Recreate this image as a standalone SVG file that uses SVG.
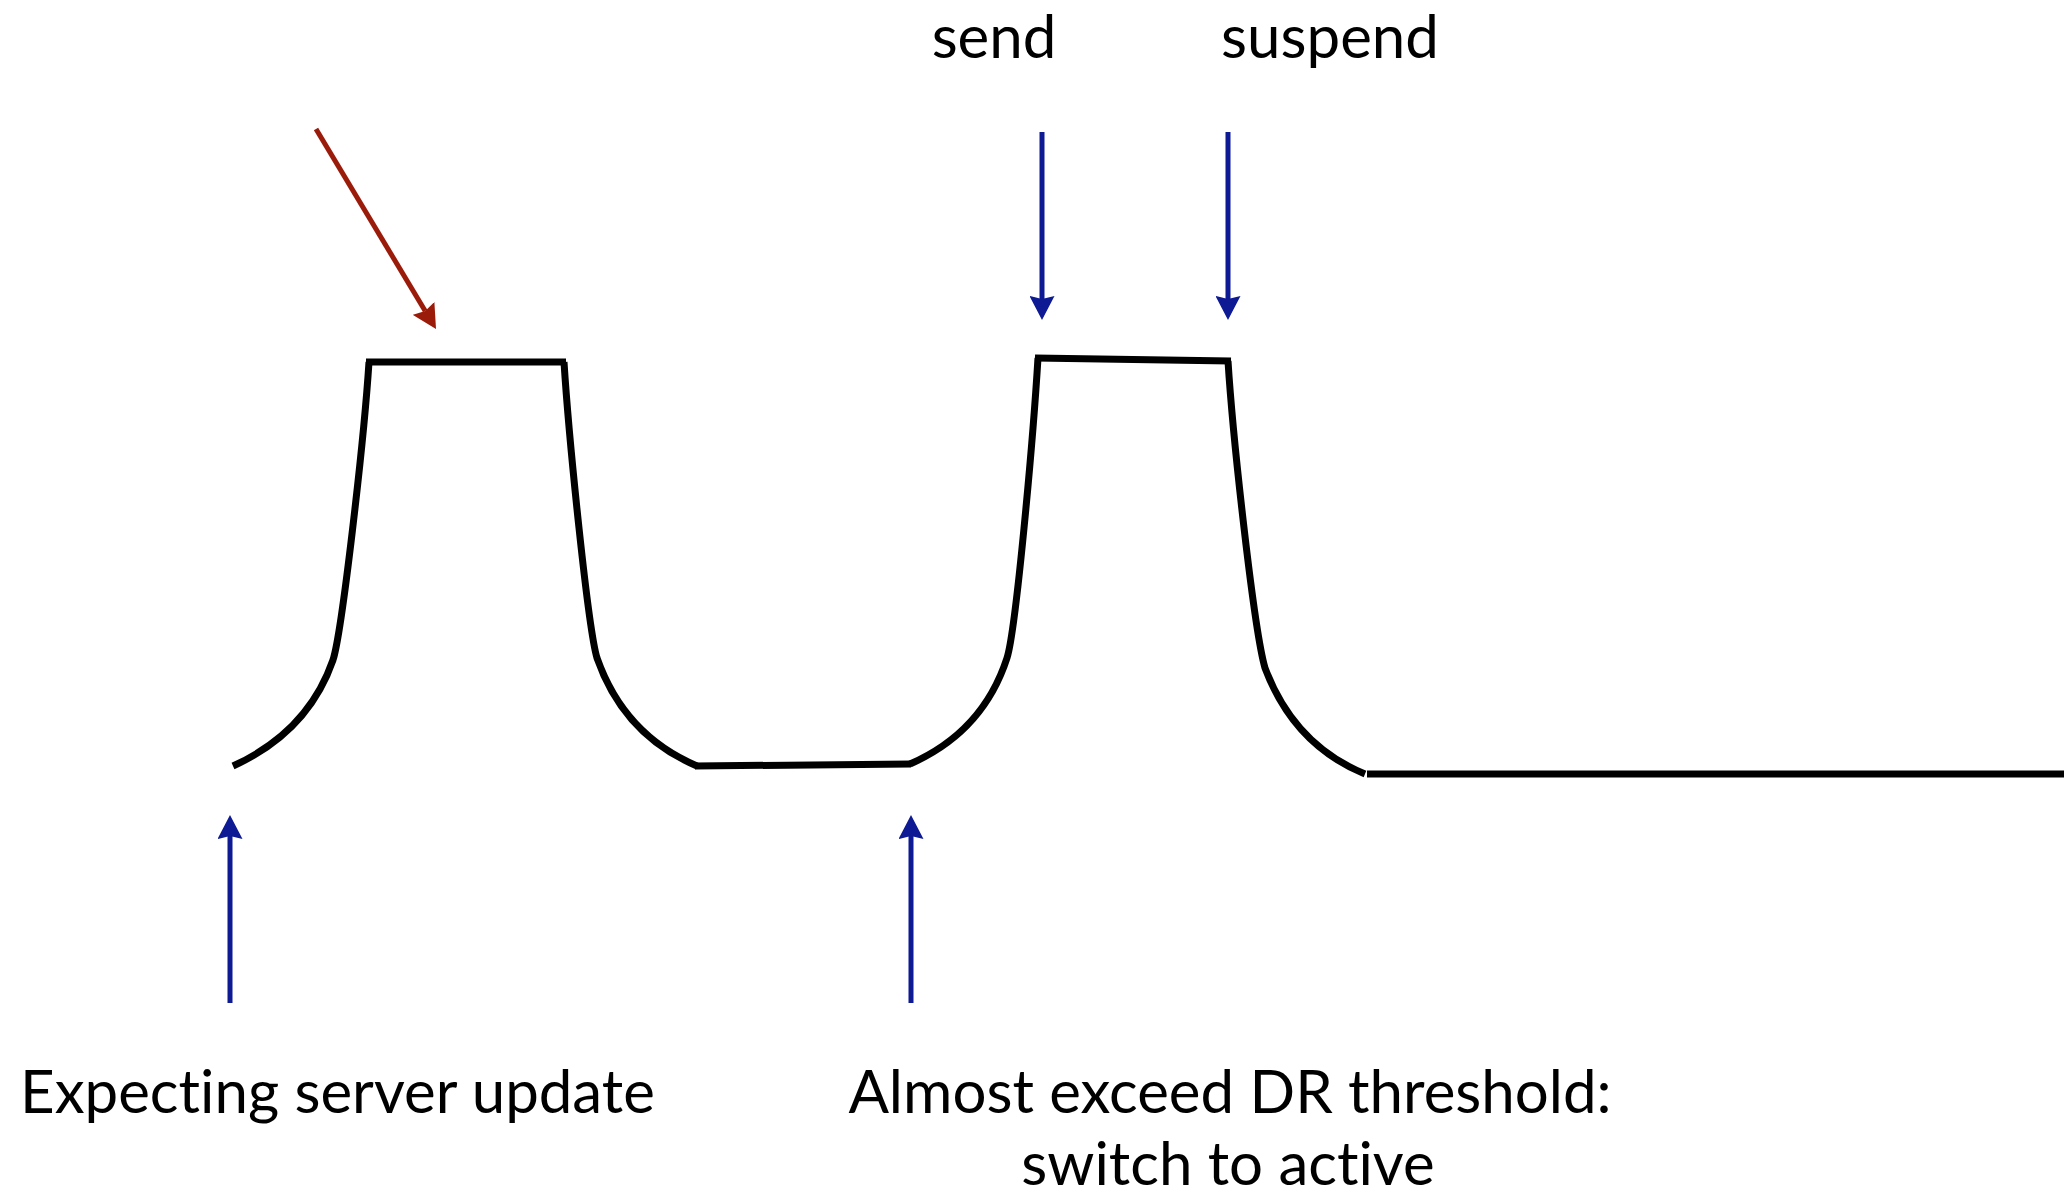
<svg xmlns="http://www.w3.org/2000/svg" width="2064" height="1191" viewBox="0 0 2064 1191">
<style>
.sig{fill:none;stroke:#000;stroke-width:7;stroke-linecap:butt;stroke-linejoin:miter}
.blue{stroke:#0d1a93;stroke-width:5;fill:none}
.red{stroke:#9b1b0a;stroke-width:5;fill:none}
text{font-family:Lato,"Open Sans","Liberation Sans",sans-serif;font-size:60px;fill:#000;font-variant-ligatures:none}
</style>
<defs>
<marker id="ahB" viewBox="0 0 24 25" markerWidth="24" markerHeight="25" refX="3" refY="12.5" orient="auto" markerUnits="userSpaceOnUse">
<path d="M0,0 L24,12.5 L0,25 L3,12.5 z" fill="#0d1a93"/>
</marker>
<marker id="ahR" viewBox="0 0 24 25" markerWidth="24" markerHeight="25" refX="3" refY="12.5" orient="auto" markerUnits="userSpaceOnUse">
<path d="M0,0 L24,12.5 L0,25 L3,12.5 z" fill="#9b1b0a"/>
</marker>
</defs>
<rect width="2064" height="1191" fill="#fff"/>
<g id="signal">
<path class="sig" d="M233,766 Q308,732 333,660 C342,632 364,440 369,362"/>
<path class="sig" d="M366,362 L566,362"/>
<path class="sig" d="M564,362 C569,440 588,628 597,658 Q624,735 697,766"/>
<path class="sig" d="M695,766 L911,764"/>
<path class="sig" d="M910,764 Q983,732 1007,658 C1016,630 1033,440 1038,358"/>
<path class="sig" d="M1035,358 L1231,361"/>
<path class="sig" d="M1228,361 C1233,440 1254,630 1265,668 Q1294,745 1365,774"/>
<path class="sig" d="M1367,774 L2064,774"/>
</g>
<g id="connectors">
<line class="red" x1="316" y1="129" x2="425.2" y2="311" marker-end="url(#ahR)"/>
<line class="blue" x1="1042" y1="132" x2="1042" y2="299" marker-end="url(#ahB)"/>
<line class="blue" x1="1228" y1="132" x2="1228" y2="299" marker-end="url(#ahB)"/>
<line class="blue" x1="230" y1="1003" x2="230" y2="836" marker-end="url(#ahB)"/>
<line class="blue" x1="911" y1="1003" x2="911" y2="836" marker-end="url(#ahB)"/>
</g>
<g id="label-send"><text x="994" y="58" text-anchor="middle">send</text></g>
<g id="label-suspend"><text x="1330" y="58" text-anchor="middle">suspend</text></g>
<g id="label-expecting"><text x="20" y="1113">Expecting server update</text></g>
<g id="label-almost">
<text x="1230" y="1113" text-anchor="middle">Almost exceed DR threshold:</text>
<text x="1228" y="1185" text-anchor="middle">switch to active</text>
</g>
</svg>
